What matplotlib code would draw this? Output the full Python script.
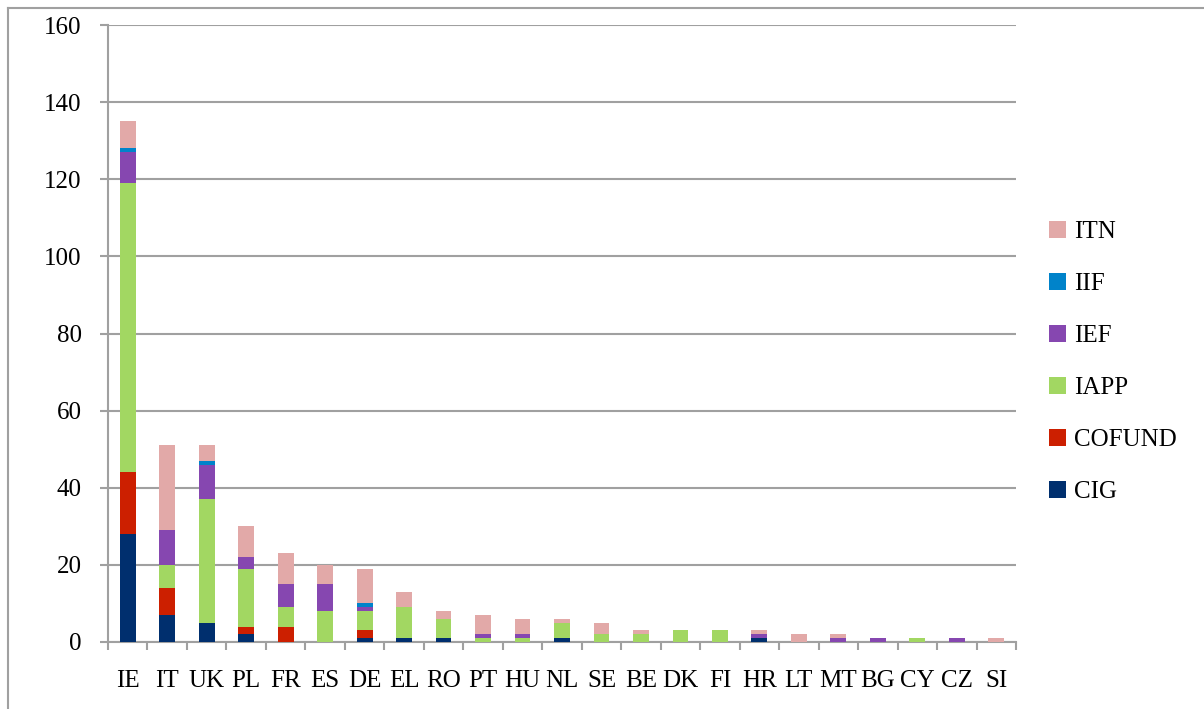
import numpy as np
import matplotlib.pyplot as plt
from matplotlib.lines import Line2D

# 国家
countries = ["IE", "IT", "UK", "PL", "FR", "ES", "DE", "EL", "RO", "PT", "HU", "NL",
             "SE", "BE", "DK", "FI", "HR", "LT", "MT", "BG", "CY", "CZ", "SI"]

# 各类资助数量
cig    = [28, 7, 5, 2, 0, 0, 1, 1, 1, 0, 0, 1, 0, 0, 0, 0, 1, 0, 0, 0, 0, 0, 0]
cofund = [16, 7, 0, 2, 4, 0, 2, 0, 0, 0, 0, 0, 0, 0, 0, 0, 0, 0, 0, 0, 0, 0, 0]
iapp   = [75, 6, 32, 15, 5, 8, 5, 8, 5, 1, 1, 4, 2, 2, 3, 3, 0, 0, 0, 0, 1, 0, 0]
ief    = [8, 9, 9, 3, 6, 7, 1, 0, 0, 1, 1, 0, 0, 0, 0, 0, 1, 0, 1, 1, 0, 1, 0]
iif    = [1, 0, 1, 0, 0, 0, 1, 0, 0, 0, 0, 0, 0, 0, 0, 0, 0, 0, 0, 0, 0, 0, 0]
itn    = [7, 22, 4, 8, 8, 5, 9, 4, 2, 5, 4, 1, 3, 1, 0, 0, 1, 2, 1, 0, 0, 0, 1]

series = [("CIG", cig, "#002F6E"),
          ("COFUND", cofund, "#CC1F00"),
          ("IAPP", iapp, "#A2D762"),
          ("IEF", ief, "#8647B0"),
          ("IIF", iif, "#0083CA"),
          ("ITN", itn, "#E2A9A8")]

plt.rcParams['font.family'] = ['Liberation Serif', 'DejaVu Serif']

fig = plt.figure(figsize=(12.04, 7.09), dpi=100)
ax = fig.add_axes([108/1204, 67/709, 908/1204, 617/709])

x = np.arange(len(countries))
bottom = np.zeros(len(countries))
handles = []
for name, vals, color in series:
    b = ax.bar(x, vals, 0.4, bottom=bottom, color=color, label=name, zorder=3)
    handles.append(b)
    bottom += np.array(vals)

ax.set_xlim(-0.5, len(countries) - 0.5)
ax.set_ylim(0, 160)
ax.set_yticks(range(0, 161, 20))
ax.yaxis.grid(True, color="#A0A0A0", linewidth=1.5, zorder=0)
ax.set_axisbelow(True)

ax.set_xticks(x)
ax.set_xticklabels(countries, fontsize=18)
ax.set_xticks(np.arange(-0.5, len(countries)), minor=True)
ax.tick_params(axis="x", which="major", length=0, pad=20)
ax.tick_params(axis="x", which="minor", length=6, width=1.5, color="#A0A0A0")
ax.tick_params(axis="y", labelsize=18, length=6, width=1.5, color="#A0A0A0", pad=13)

for s in ["top", "right"]:
    ax.spines[s].set_visible(False)
for s in ["left", "bottom"]:
    ax.spines[s].set_color("#A0A0A0")
    ax.spines[s].set_linewidth(1.5)

# 图例（倒序）
leg = ax.legend(handles[::-1], [s[0] for s in series][::-1], loc="center left",
                bbox_to_anchor=(1.025, 0.454), frameon=False, fontsize=18,
                handlelength=0.7, handleheight=0.7, labelspacing=1.18,
                handletextpad=0.3, borderaxespad=0)

# 外框
fig.add_artist(Line2D([8/1204, 8/1204], [0, 1 - 8/709], color="#A0A0A0", linewidth=1.5))
fig.add_artist(Line2D([8/1204, 1], [1 - 8/709, 1 - 8/709], color="#A0A0A0", linewidth=1.5))

plt.savefig("out.png")
plt.close()
